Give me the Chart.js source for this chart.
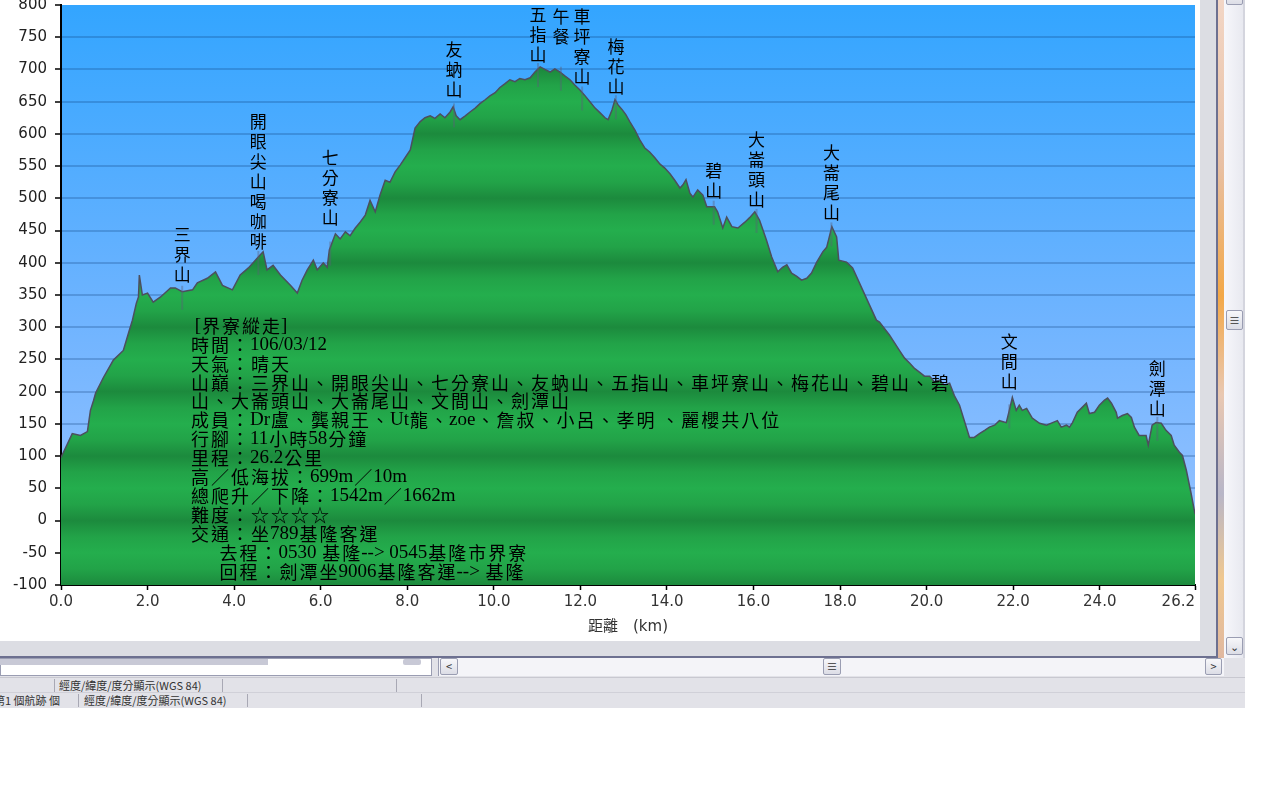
<!DOCTYPE html>
<html>
<head>
<meta charset="utf-8">
<script src="https://cdn.jsdelivr.net/npm/chart.js@4.4.1/dist/chart.umd.min.js"></script>
<style>
  body { margin: 0; width: 1280px; height: 800px; overflow: hidden; position: relative; background: #fff; font-family: "Noto Sans CJK TC", sans-serif; }
  .abs { position: absolute; box-sizing: border-box; }
  #frame { left: 0; top: 0; width: 1216px; height: 657px; background: #dcdde3; }
  #wrap { left: 0; top: 0; width: 1200px; height: 641px; background: #fff; }
  .btn { background: linear-gradient(#f7f7fa, #dcdde6); border: 1px solid #9a9db2; border-radius: 2px; font-size: 11px; color: #333; text-align: center; line-height: 15px; }
  .status { font-size: 11px; color: #333; line-height: 15px; white-space: nowrap; }
  .sep { width: 1px; background: #a8a8b4; }
</style>
</head>
<body>
<div class="abs" id="frame"></div>
<div class="abs" id="wrap"><canvas id="profileChart"></canvas></div>

<!-- window chrome on the right -->
<div class="abs" style="left:1216px;top:0;width:2px;height:658px;background:#6d7090"></div>
<div class="abs" style="left:1218px;top:0;width:6px;height:658px;background:linear-gradient(#f2d6c6 0%,#e8c0a4 25%,#f3a848 45%,#e9c8b2 60%,#b8b6c8 75%,#f0c890 88%,#e0b8a0 100%)"></div>
<div class="abs" style="left:1224px;top:0;width:21px;height:658px;background:linear-gradient(to right,#f7f7fb,#e8e9f0);border-right:2px solid #d4d5de"></div>
<div class="abs btn" style="left:1226px;top:-12px;width:17px;height:17px"></div>
<div class="abs btn" style="left:1226px;top:310px;width:17px;height:20px;line-height:18px">&#8801;</div>
<div class="abs btn" style="left:1226px;top:637px;width:17px;height:18px;line-height:16px">&#8964;</div>

<!-- bottom chrome -->
<div class="abs" style="left:0;top:656px;width:1218px;height:2px;background:#6d7090"></div>
<div class="abs" style="left:0;top:658px;width:1245px;height:50px;background:#e2e2e8"></div>
<div class="abs" style="left:0;top:658px;width:432px;height:18px;background:#fff;border:1px solid #9a9db2"></div>
<div class="abs" style="left:0;top:659px;width:268px;height:6px;background:#c8c9d6"></div>
<div class="abs" style="left:403px;top:659px;width:18px;height:6px;background:#c8c9d6;border-radius:2px"></div>
<div class="abs" style="left:438px;top:658px;width:786px;height:18px;background:#f4f4f8;border-left:1px solid #9a9db2"></div>
<div class="abs btn" style="left:440px;top:658px;width:18px;height:17px">&lt;</div>
<div class="abs btn" style="left:823px;top:658px;width:18px;height:17px">&#8801;</div>
<div class="abs btn" style="left:1205px;top:658px;width:17px;height:17px">&gt;</div>
<div class="abs" style="left:0;top:677px;width:1245px;height:1px;background:#c8c8d0"></div>
<div class="abs status" style="left:59px;top:678px">經度/緯度/度分顯示(WGS 84)</div>
<div class="abs sep" style="left:54px;top:679px;height:13px"></div>
<div class="abs sep" style="left:222px;top:679px;height:13px"></div>
<div class="abs sep" style="left:396px;top:679px;height:13px"></div>
<div class="abs" style="left:0;top:692px;width:1245px;height:1px;background:#d0d0d8"></div>
<div class="abs status" style="left:-6px;top:693px">第1 個航跡 個</div>
<div class="abs sep" style="left:78px;top:694px;height:13px"></div>
<div class="abs status" style="left:84px;top:693px">經度/緯度/度分顯示(WGS 84)</div>
<div class="abs sep" style="left:247px;top:694px;height:13px"></div>
<div class="abs sep" style="left:421px;top:694px;height:13px"></div>

<script>
// elevation profile (km / m)
const distKm = [
  0.00, 0.26, 0.45, 0.61, 0.68, 0.75, 0.80, 0.98, 1.21, 1.44, 1.56, 1.65, 1.74, 1.79, 1.81, 1.88,
  2.00, 2.13, 2.30, 2.53, 2.64, 2.80, 3.04, 3.15, 3.38, 3.57, 3.73, 3.96, 4.14, 4.33, 4.60, 4.67,
  4.76, 4.90, 5.07, 5.30, 5.46, 5.57, 5.69, 5.83, 5.92, 6.06, 6.15, 6.20, 6.34, 6.45, 6.57, 6.68,
  6.80, 6.91, 7.03, 7.14, 7.26, 7.37, 7.49, 7.60, 7.72, 7.84, 7.95, 8.07, 8.18, 8.30, 8.41, 8.53,
  8.64, 8.76, 8.87, 8.99, 9.06, 9.13, 9.22, 9.34, 9.45, 9.57, 9.68, 9.80, 9.91, 10.03, 10.14, 10.26,
  10.37, 10.49, 10.60, 10.72, 10.84, 10.95, 11.07, 11.18, 11.30, 11.41, 11.53, 11.64, 11.76, 11.87, 11.99, 12.11,
  12.22, 12.34, 12.45, 12.57, 12.64, 12.73, 12.80, 12.87, 12.96, 13.05, 13.14, 13.26, 13.37, 13.49, 13.60, 13.72,
  13.84, 13.95, 14.07, 14.18, 14.30, 14.37, 14.44, 14.53, 14.60, 14.71, 14.83, 14.92, 15.10, 15.17, 15.29, 15.38,
  15.50, 15.64, 15.80, 15.91, 16.03, 16.14, 16.30, 16.42, 16.56, 16.67, 16.77, 16.88, 17.00, 17.11, 17.23, 17.34,
  17.46, 17.60, 17.69, 17.81, 17.92, 17.97, 18.15, 18.29, 18.52, 18.84, 18.91, 19.14, 19.37, 19.49, 19.61, 19.72,
  19.84, 19.95, 20.07, 20.18, 20.30, 20.41, 20.53, 20.64, 20.76, 20.87, 20.99, 21.10, 21.22, 21.34, 21.45, 21.57,
  21.68, 21.84, 21.91, 21.98, 22.07, 22.14, 22.21, 22.31, 22.44, 22.61, 22.77, 22.91, 23.02, 23.11, 23.23, 23.30,
  23.37, 23.48, 23.60, 23.69, 23.76, 23.88, 23.99, 24.11, 24.18, 24.27, 24.38, 24.41, 24.52, 24.64, 24.73, 24.80,
  24.91, 25.07, 25.12, 25.21, 25.30, 25.42, 25.53, 25.65, 25.72, 25.84, 25.91, 26.00, 26.11, 26.20
];
const elevM = [
  98, 135, 132, 138, 171, 186, 198, 222, 249, 264, 291, 311, 337, 347, 381, 350,
  353, 339, 347, 361, 361, 355, 358, 369, 376, 386, 365, 358, 381, 392, 412, 417,
  389, 396, 381, 365, 353, 373, 389, 404, 389, 400, 393, 420, 445, 437, 448, 442,
  454, 463, 474, 497, 479, 505, 528, 525, 541, 552, 563, 575, 609, 619, 625, 628,
  624, 631, 625, 634, 642, 628, 622, 628, 634, 640, 647, 653, 659, 664, 672, 678,
  684, 681, 686, 684, 687, 696, 704, 700, 696, 701, 696, 690, 684, 676, 668, 659,
  650, 640, 633, 625, 622, 637, 653, 645, 638, 630, 619, 606, 591, 578, 572, 563,
  553, 547, 538, 528, 516, 521, 529, 508, 502, 513, 505, 487, 487, 479, 454, 471,
  456, 454, 463, 470, 479, 466, 435, 409, 386, 393, 397, 384, 379, 373, 376, 384,
  401, 417, 424, 456, 440, 404, 401, 392, 358, 311, 308, 288, 264, 252, 244, 236,
  230, 224, 224, 215, 218, 210, 213, 194, 179, 155, 129, 129, 135, 140, 145, 148,
  155, 152, 171, 191, 171, 179, 171, 174, 159, 151, 148, 152, 155, 145, 148, 145,
  152, 168, 176, 182, 166, 168, 179, 187, 190, 182, 168, 159, 163, 166, 160, 145,
  132, 132, 117, 148, 152, 151, 140, 132, 117, 106, 101, 78, 42, 10
];

// peak names (written top to bottom), where they sit, and the altitude the bottom of the label rests on
const peakNames = ['三界山', '開眼尖山喝咖啡', '七分寮山', '友蚋山', '五指山', '午餐', '車坪寮山',
  '梅花山', '碧山', '大崙頭山', '大崙尾山', '文間山', '劍潭山'];
const peakKm = [2.80, 4.56, 6.22, 9.08, 11.02, 11.55, 12.04, 12.82, 15.08, 16.07, 17.80, 21.91, 25.33];
const peakLabelM = [366, 418, 454, 653, 707, 735, 673, 658, 497, 482, 463, 200, 159];

const infoLines = [
  ' [界寮縱走]',
  '時間：106/03/12',
  '天氣：晴天',
  '山巔：三界山、開眼尖山、七分寮山、友蚋山、五指山、車坪寮山、梅花山、碧山、碧',
  '山、大崙頭山、大崙尾山、文間山、劍潭山',
  '成員：Dr盧、龔親王、Ut龍、zoe、詹叔、小呂、孝明 、麗櫻共八位',
  '行腳：11小時58分鐘',
  '里程：26.2公里',
  '高／低海拔：699m／10m',
  '總爬升／下降：1542m／1662m',
  '難度：☆☆☆☆',
  '交通：坐789基隆客運',
  '      去程：0530 基隆--> 0545基隆市界寮',
  '      回程：劍潭坐9006基隆客運--> 基隆'
];

const xTicks = [0, 2, 4, 6, 8, 10, 12, 14, 16, 18, 20, 22, 24, 26.2];

const points = distKm.map((d, i) => ({ x: d, y: elevM[i] }));

function elevAt(km) {
  for (let i = 1; i < distKm.length; i++) {
    if (distKm[i] >= km) {
      const t = (km - distKm[i - 1]) / (distKm[i] - distKm[i - 1]);
      return elevM[i - 1] + t * (elevM[i] - elevM[i - 1]);
    }
  }
  return elevM[elevM.length - 1];
}

// full-width glyphs get a fixed 20px cell, latin runs keep their own width
const isWide = (ch) => ch.charCodeAt(0) > 0x2400;

function drawMixed(ctx, text, x, y) {
  let cx = x;
  let run = '';
  const flush = () => {
    if (!run) return;
    ctx.font = '19px "Liberation Serif"';
    ctx.fillText(run, cx, y);
    cx += ctx.measureText(run).width;
    run = '';
  };
  for (const ch of text) {
    if (isWide(ch)) {
      flush();
      ctx.font = '18px "Noto Sans CJK TC"';
      ctx.fillText(ch, cx + 1, y);
      cx += 20;
    } else {
      run += ch;
    }
  }
  flush();
}

// blue sky behind the profile
const skyPlugin = {
  id: 'sky',
  beforeDraw(chart) {
    const { ctx, chartArea: a } = chart;
    const g = ctx.createLinearGradient(0, a.top, 0, a.bottom);
    g.addColorStop(0, '#33a5ff');
    g.addColorStop(0.55, '#70b4ff');
    g.addColorStop(1, '#9ec5ff');
    ctx.save();
    ctx.fillStyle = g;
    ctx.fillRect(a.left, a.top, a.right - a.left, a.bottom - a.top);
    ctx.restore();
  }
};

// peak names + the trip notes
const textPlugin = {
  id: 'texts',
  afterDraw(chart) {
    const { ctx, chartArea: a, scales } = chart;
    ctx.save();
    // little waypoint markers
    ctx.strokeStyle = 'rgba(90,95,120,0.4)';
    ctx.lineWidth = 2;
    peakKm.forEach((km) => {
      const x = scales.x.getPixelForValue(km);
      const y = scales.y.getPixelForValue(elevAt(km));
      ctx.beginPath();
      ctx.moveTo(x, y - 6);
      ctx.lineTo(x, y + 18);
      ctx.stroke();
    });

    ctx.fillStyle = '#000';
    ctx.textAlign = 'center';
    ctx.textBaseline = 'middle';
    ctx.font = '17px "Noto Sans CJK TC"';
    peakNames.forEach((name, i) => {
      const x = scales.x.getPixelForValue(peakKm[i]);
      const bottom = scales.y.getPixelForValue(peakLabelM[i]);
      const chars = Array.from(name);
      chars.forEach((c, j) => {
        ctx.fillText(c, x, bottom - (chars.length - 1 - j) * 20 - 10);
      });
    });

    ctx.textAlign = 'left';
    infoLines.forEach((line, i) => {
      drawMixed(ctx, line, a.left + 129, a.top + 321 + i * 18.9);
    });
    ctx.restore();
  }
};

const ctx = document.getElementById('profileChart').getContext('2d');

new Chart(ctx, {
  type: 'line',
  data: {
    datasets: [{
      data: points,
      fill: 'start',
      borderColor: '#4c4f5e',
      borderWidth: 1.5,
      pointRadius: 0,
      tension: 0,
      backgroundColor: (c) => {
        const { chart } = c;
        const { chartArea, scales } = chart;
        if (!chartArea) return '#22aa4a';
        const top = scales.y.getPixelForValue(800);
        const bot = scales.y.getPixelForValue(-100);
        const g = chart.ctx.createLinearGradient(0, top, 0, bot);
        for (let v = -100; v <= 800; v += 25) {
          const m = ((v % 100) + 100) % 100;
          const col = m === 0 ? '#1c8a3d' : (m === 50 ? '#24ae4d' : '#22a348');
          g.addColorStop((scales.y.getPixelForValue(v) - top) / (bot - top), col);
        }
        return g;
      }
    }]
  },
  options: {
    responsive: true,
    maintainAspectRatio: false,
    animation: false,
    layout: { autoPadding: false, padding: { top: 5, right: 5, left: 0, bottom: 0 } },
    plugins: { legend: { display: false }, tooltip: { enabled: false } },
    scales: {
      x: {
        type: 'linear',
        min: 0,
        max: 26.2,
        afterBuildTicks: (s) => { s.ticks = xTicks.map((v) => ({ value: v })); },
        afterFit: (s) => { s.height = 56; s.paddingLeft = 0; s.paddingRight = 0; },
        ticks: {
          autoSkip: false,
          maxRotation: 0,
          padding: 3,
          color: '#333',
          font: { family: 'DejaVu Sans', size: 15 },
          // last label sits left of its tick, as in the original
          callback: (v) => (v === 26.2 ? '26.2       ' : Number(v).toFixed(1))
        },
        grid: { drawOnChartArea: false, tickColor: '#000', tickLength: 5, tickWidth: 1.5 },
        border: { color: '#000', width: 2 },
        title: {
          display: true,
          text: '距離　(km)',
          color: '#333',
          font: { family: '"DejaVu Sans", "Noto Sans CJK TC"', size: 15 },
          padding: { top: 4, bottom: 5 }
        }
      },
      y: {
        min: -100,
        max: 800,
        z: 1,
        afterFit: (s) => { s.width = 61; s.paddingTop = 0; s.paddingBottom = 0; },
        ticks: {
          stepSize: 50,
          padding: 8,
          color: '#222',
          font: { family: 'DejaVu Sans', size: 15 }
        },
        grid: {
          color: (c) => (c.tick && c.tick.value === 800 ? 'rgba(0,0,0,0)' : 'rgba(10,60,120,0.25)'),
          lineWidth: 2,
          tickColor: '#000',
          tickLength: 6,
          tickWidth: 1.5
        },
        border: { color: '#000', width: 2 }
      }
    }
  },
  plugins: [skyPlugin, textPlugin]
});
</script>
</body>
</html>
